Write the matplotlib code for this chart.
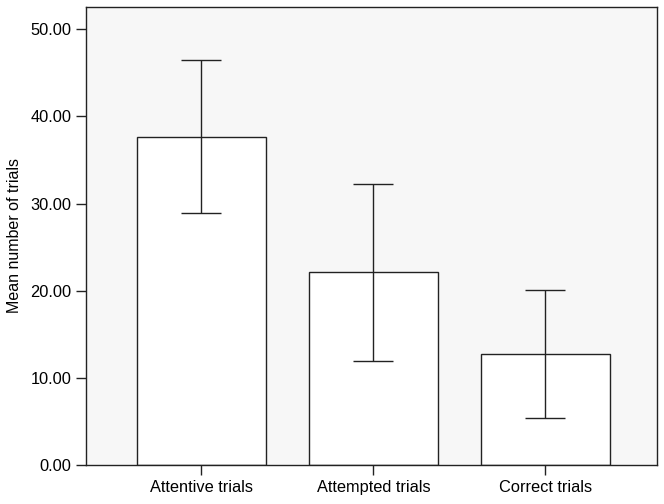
import matplotlib
matplotlib.use('Agg')
import matplotlib.pyplot as plt

categories = ['Attentive trials', 'Attempted trials', 'Correct trials']
means = [37.7, 22.1, 12.75]
errors = [8.75, 10.2, 7.35]

plt.rcParams['font.family'] = ['Liberation Sans', 'DejaVu Sans']

fig = plt.figure(figsize=(6.64, 5.04), dpi=100)
ax = fig.add_axes([0.1295, 0.0774, 0.86, 0.9093])
ax.set_facecolor('#f7f7f7')

x = range(len(categories))
ax.bar(x, means, width=0.75, color='white', edgecolor='#222222', linewidth=1.0, zorder=2)
ax.errorbar(x, means, yerr=errors, fmt='none', ecolor='#222222', elinewidth=1.0,
            capsize=14.4, capthick=1.0, zorder=3)

ax.set_xlim(-0.669, 2.648)
ax.set_ylim(0, 52.6)
ax.set_xticks(list(x))
ax.set_xticklabels(categories, fontsize=11.8)
ax.set_yticks([0, 10, 20, 30, 40, 50])
ax.set_yticklabels([f'{v:.2f}' for v in [0, 10, 20, 30, 40, 50]], fontsize=11.8)
ax.set_ylabel('Mean number of trials', fontsize=11.5, labelpad=6)
ax.tick_params(direction='out', length=7, width=1.0, color='#222222')
for s in ax.spines.values():
    s.set_color('#222222')
    s.set_linewidth(1.0)

fig.savefig('out.png', dpi=100)
